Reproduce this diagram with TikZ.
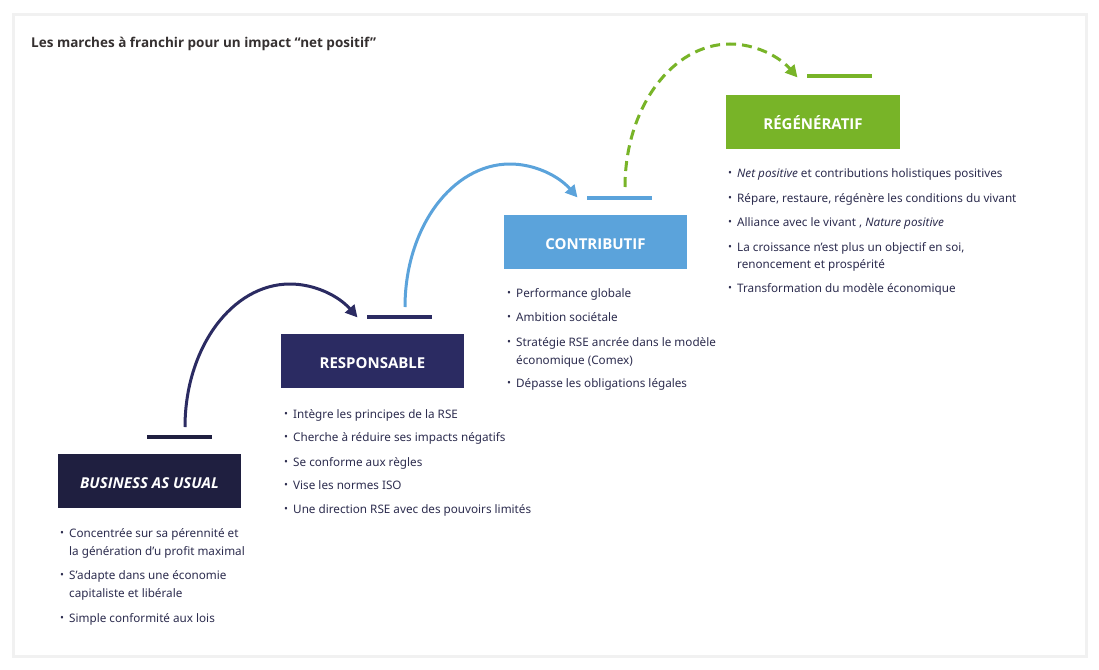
\documentclass[tikz,border=0pt]{standalone}
\usepackage{fontspec}
\IfFontExistsTF{Open Sans Bold}
 {\setmainfont{Noto Sans}[BoldFont={Open Sans Bold}, BoldItalicFont={Open Sans Bold Italic}]}
 {\setmainfont{Noto Sans}[BoldFont={Noto Sans}, BoldFeatures={FakeBold=2.5}, BoldItalicFont={Noto Sans Italic}, BoldItalicFeatures={FakeBold=2.5}]}
\usetikzlibrary{arrows.meta}
\definecolor{navyA}{HTML}{1F1F40}
\definecolor{navyB}{HTML}{2B2B62}
\definecolor{blueC}{HTML}{5BA3DB}
\definecolor{greenD}{HTML}{78B428}
\definecolor{txtcol}{HTML}{2D2D4F}
\definecolor{titlecol}{HTML}{353030}
\definecolor{framecol}{HTML}{F1F1F1}
\newcommand\bul{\makebox[9pt][l]{\fontsize{10.5}{10}\selectfont\raisebox{0.3pt}{•}}}
\begin{document}
\begin{tikzpicture}[x=1pt,y=-1pt,
  box/.style={draw=none, minimum height=54pt, inner sep=0pt, text=white,
    text height=14pt, text depth=0pt, font=\fontsize{15}{18}\selectfont\bfseries},
  stepline/.style={line width=4pt},
  jump/.style={line width=3pt, -{Triangle[length=12pt,width=12pt]}},
  itm/.style={anchor=base west, inner sep=0pt, text=txtcol, font=\fontsize{11.7}{14}\selectfont},
]
\useasboundingbox (0,0) rectangle (1099,669);
\fill[white] (0,0) rectangle (1099,669);
\draw[framecol, line width=3pt] (13,15) rectangle (1086,656);

\node[anchor=base west, inner sep=0pt, text=titlecol, font=\fontsize{13.5}{16}\selectfont\bfseries] (title) at (31,48)
  {Les marches à franchir pour un impact “net positif”};

% boxes
\node[box, fill=navyA, minimum width=183pt] (bau) at (149.5,481) {\itshape BUSINESS AS USUAL};
\node[box, fill=navyB, minimum width=183pt] (resp) at (372.5,361) {RESPONSABLE};
\node[box, fill=blueC, minimum width=183pt] (contr) at (595.5,242) {CONTRIBUTIF};
\node[box, fill=greenD, minimum width=174pt] (regen) at (813,122) {RÉGÉNÉRATIF};

% step lines
\draw[stepline, navyA] (147,437) -- (212,437);
\draw[stepline, navyB] (367,317) -- (432,317);
\draw[stepline, blueC] (587,198) -- (652,198);
\draw[stepline, greenD] (807,76) -- (872,76);

% jumps
\coordinate (s1) at (185,427);
\coordinate (s2) at (405,307);
\coordinate (s3) at (625,187);
\draw[jump, navyB] (s1) arc[start angle=180, end angle=310, x radius=105, y radius=143];
\draw[jump, blueC] (s2) arc[start angle=180, end angle=310, x radius=105, y radius=143];
\draw[jump, greenD, dash pattern=on 10pt off 6pt] (s3) arc[start angle=180, end angle=310, x radius=105, y radius=143];

% BAU list
\node[itm] (b1) at (60,537) {\bul Concentrée sur sa pérennité et};
\node[itm] (b1b) at (69,555) {la génération d’u profit maximal};
\node[itm] (b2) at (60,579) {\bul S’adapte dans une économie};
\node[itm] (b2b) at (69,597) {capitaliste et libérale};
\node[itm] (b3) at (60,622) {\bul Simple conformité aux lois};

% Responsable list
\node[itm] (r1) at (284,418) {\bul Intègre les principes de la RSE};
\node[itm] (r2) at (284,441) {\bul Cherche à réduire ses impacts négatifs};
\node[itm] (r3) at (284,466) {\bul Se conforme aux règles};
\node[itm] (r4) at (284,489) {\bul Vise les normes ISO};
\node[itm] (r5) at (284,513) {\bul Une direction RSE avec des pouvoirs limités};

% Contributif list
\node[itm] (c1) at (507,297) {\bul Performance globale};
\node[itm] (c2) at (507,321) {\bul Ambition sociétale};
\node[itm] (c3) at (507,346) {\bul Stratégie RSE ancrée dans le modèle};
\node[itm] (c3b) at (516,364) {économique (Comex)};
\node[itm] (c4) at (507,387) {\bul Dépasse les obligations légales};

% Regeneratif list
\node[itm] (g1) at (728,177) {\bul \textit{Net positive} et contributions holistiques positives};
\node[itm] (g2) at (728,202) {\bul Répare, restaure, régénère les conditions du vivant};
\node[itm] (g3) at (728,226) {\bul Alliance avec le vivant , \textit{Nature positive}};
\node[itm] (g4) at (728,251) {\bul La croissance n’est plus un objectif en soi,};
\node[itm] (g4b) at (737,268) {renoncement et prospérité};
\node[itm] (g5) at (728,292) {\bul Transformation du modèle économique};
\end{tikzpicture}
\end{document}
